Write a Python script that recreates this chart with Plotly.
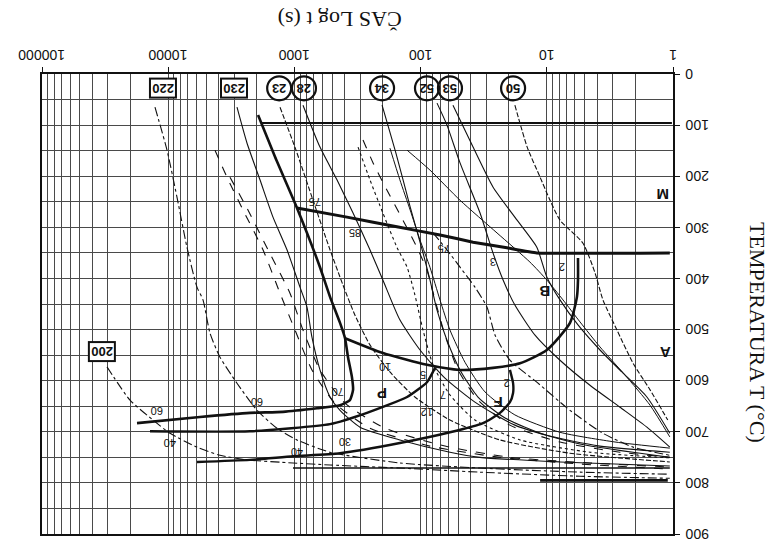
import math
import plotly.graph_objects as go

# ---------------- data (time t in s, temperature T in °C) ----------------
x_ticks = [1, 10, 100, 1000, 10000, 100000]
x_tick_labels = ["1", "10", "100", "1000", "10000", "100000"]
y_ticks = [0, 100, 200, 300, 400, 500, 600, 700, 800, 900]
y_tick_labels = ["0", "100", "200", "300", "400", "500", "600", "700", "800", "900"]

# transformation boundaries (thick lines)
ms_t = [1.06, 12.0, 20.7, 38.4, 70.2, 154, 383, 954]
ms_T = [350, 350, 340, 329, 315, 299, 280, 262]
ps_t = [1941, 1425, 954, 627, 522, 435, 397, 376, 350, 343, 363, 435, 662, 1231, 2249, 5600, 17670]
ps_T = [80, 162, 262, 378, 436, 487, 517, 554, 593, 618, 638, 648, 654, 661, 663, 671, 683]
bs_t = [5.66, 5.66, 5.77, 6.55, 10.0, 16.3, 26.7, 48.7, 89.0, 199, 397]
bs_T = [360, 403, 436, 487, 540, 566, 575, 579, 569, 546, 517]
pf_t = [13940, 2249, 522, 266, 128, 89.0, 76.9]
pf_T = [699, 699, 685, 663, 632, 603, 575]
fs_t = [5915, 2249, 1026, 435, 146, 58.5, 32.0, 23.5, 19.6, 18.5, 18.5, 19.6]
fs_T = [759, 755, 748, 742, 722, 701, 683, 663, 642, 624, 605, 579]
a1_t = [1026, 1.06]
a1_T = [771, 771]
a3_t = [11.3, 1.1]
a3_T = [795, 795]
mf_t = [1806, 1.02]
mf_T = [96, 96]

# cooling curves
c220_t = [12730, 10220, 8520, 7100, 5915, 5300, 4666, 3888, 2850, 1978, 1374, 954, 522, 146, 33.8, 5.46, 1.06]
c220_T = [65, 149, 241, 339, 417, 442, 507, 554, 605, 658, 693, 716, 740, 761, 771, 779, 783]
c200_t = [30550, 20080, 13200, 9680, 5915, 3888, 2376, 1026, 522, 146, 33.8, 5.46, 1.06]
c200_T = [573, 638, 677, 703, 730, 746, 755, 761, 765, 771, 779, 787, 791]
c230_t = [2850, 2376, 1874, 1478, 1145, 903, 795, 726, 627, 522, 435, 302, 146, 58.5, 33.8, 7.86, 1.06]
c230_T = [65, 135, 207, 280, 344, 417, 456, 515, 579, 632, 658, 691, 716, 740, 750, 759, 767]
d1_t = [4259, 3420, 2555, 1774, 1300, 989, 726, 477, 252, 84.3, 23.5, 5.46, 1.06]
d1_T = [149, 202, 266, 344, 429, 501, 579, 644, 693, 728, 750, 763, 773]
d2_t = [3239, 2333, 1619, 1084, 855, 627, 397, 191, 64.1, 19.6, 4.55, 1.06]
d2_T = [202, 266, 344, 429, 501, 579, 644, 693, 728, 750, 761, 769]
c23_t = [1300, 971, 712, 522, 412, 331, 252, 175, 111, 58.5, 23.5, 6.55, 1.06]
c23_T = [65, 149, 247, 344, 413, 472, 530, 583, 632, 677, 716, 742, 759]
c28_t = [855, 627, 460, 343, 252, 199, 146, 101, 64.1, 37.1, 17.9, 5.46, 1.06]
c28_T = [61, 143, 207, 272, 344, 403, 481, 540, 595, 642, 687, 724, 750]
c34_t = [202, 154, 121, 95.7, 84.3, 74.1, 61.8, 48.7, 35.1, 21.4, 10.3, 3.79, 1.06]
c34_T = [61, 162, 260, 350, 403, 462, 521, 579, 632, 673, 706, 728, 740]
s1_t = [175, 146, 121, 101, 84.3, 70.2, 58.5, 44.5, 30.9, 17.9, 7.86, 2.88, 1.06]
s1_T = [145, 207, 266, 325, 378, 442, 501, 564, 622, 667, 701, 720, 732]
d3_t = [286, 238, 185, 138, 107, 89.0, 76.9, 64.1, 50.5, 35.1, 19.6, 7.86, 2.63, 1.06]
d3_T = [129, 174, 227, 286, 339, 384, 442, 511, 579, 638, 687, 720, 740, 750]
d4_t = [313, 252, 199, 154, 128, 111, 95.7, 79.7, 58.5, 37.1, 16.3, 4.55, 1.06]
d4_T = [143, 207, 272, 339, 378, 432, 501, 569, 628, 677, 716, 740, 751]
d5_t = [79.7, 61.8, 48.7, 37.1, 29.8, 25.7, 19.6, 12.0, 6.55, 3.59, 2.07, 1.06]
d5_T = [311, 344, 378, 417, 456, 511, 560, 603, 658, 703, 730, 746]
u_t = [128, 84.3, 48.7, 24.8, 13.6, 10.0, 7.44, 5.46, 3.79, 2.40, 1.52, 1.06]
u_T = [149, 188, 247, 311, 368, 403, 442, 485, 534, 589, 648, 710]
c52_t = [74.1, 61.8, 48.7, 33.8, 26.7, 22.2, 17.9, 12.4, 7.86, 4.55, 2.63, 1.61, 1.06]
c52_T = [57, 100, 174, 272, 350, 403, 452, 511, 560, 609, 652, 691, 730]
c53_t = [55.4, 38.4, 26.7, 17.2, 12.0, 10.0, 7.86, 5.66, 3.79, 2.54, 1.61, 1.06]
c53_T = [61, 143, 221, 286, 339, 397, 442, 491, 540, 583, 632, 703]
c50_t = [17.9, 14.3, 11.3, 9.43, 7.86, 5.17, 4.15, 3.59, 2.78, 2.07, 1.52, 1.10]
c50_T = [61, 143, 202, 247, 286, 331, 389, 442, 501, 566, 618, 677]

# curve end labels
circle_labels = ["50", "53", "52", "34", "28", "23"]
circle_t = [18.5, 58.5, 89.0, 202, 840, 1320]
circle_T = [28, 28, 28, 28, 28, 28]
box_labels = ["220", "230", "200"]
box_t = [11000, 3010, 33500]
box_T = [27, 27, 544]

# phase letters
phase_labels = ["M", "A", "B", "P", "F"]
phase_t = [1.2, 1.16, 10.3, 202, 24.4]
phase_T = [237, 546, 427, 624, 644]

# percentage labels
pct_labels = ["2", "3", "75", "85", "75", "10", "70", "5", "7", "12", "30", "40", "2", "60", "40", "60"]
pct_t = [7.58, 26.7, 65.3, 331, 687, 191, 452, 95.7, 66.5, 89, 397, 953, 20.7, 12270, 9680, 1978]
pct_T = [378, 368, 341, 311, 250, 573, 622, 589, 628, 661, 720, 740, 605, 658, 722, 642]

# ---------------- figure ----------------
INK = "#111111"
GRID = "#4a4a4a"
fig = go.Figure()


def add_line(t, T, width=1.0, dash="solid", smooth=0.6):
    fig.add_trace(go.Scatter(
        x=t, y=T, mode="lines",
        line=dict(color=INK, width=width, dash=dash, shape="spline", smoothing=smooth),
        hoverinfo="skip", showlegend=False))


# cooling curves
add_line(c220_t, c220_T, 1.1, "dashdot")
add_line(c200_t, c200_T, 1.1, "dashdot")
add_line(c230_t, c230_T, 1.1)
add_line(d1_t, d1_T, 1.1, "dash")
add_line(d2_t, d2_T, 1.1, "dash")
add_line(c23_t, c23_T, 1.1, "5px,2px")
add_line(c28_t, c28_T, 1.1)
add_line(c34_t, c34_T, 1.1)
add_line(s1_t, s1_T, 1.0)
add_line(d3_t, d3_T, 1.1, "dash")
add_line(d4_t, d4_T, 1.1, "dot")
add_line(d5_t, d5_T, 1.1, "dashdot")
add_line(u_t, u_T, 1.0)
add_line(c52_t, c52_T, 1.1)
add_line(c53_t, c53_T, 1.1)
add_line(c50_t, c50_T, 1.1, "5px,2px")

# transformation boundaries
add_line(ms_t, ms_T, 3.0, smooth=0.3)
add_line(ps_t, ps_T, 2.6, smooth=0.5)
add_line(bs_t, bs_T, 2.6, smooth=0.6)
add_line(pf_t, pf_T, 2.4, smooth=0.5)
add_line(fs_t, fs_T, 2.4, smooth=0.6)
add_line(a1_t, a1_T, 1.6, smooth=0)
add_line(a3_t, a3_T, 2.6, smooth=0)
add_line(mf_t, mf_T, 2.0, smooth=0)

# circles around labels
fig.add_trace(go.Scatter(
    x=circle_t, y=circle_T, mode="markers",
    marker=dict(symbol="circle-open", size=24, color=INK, line=dict(width=2.2, color=INK)),
    hoverinfo="skip", showlegend=False))

annotations = []
for lab, t, T in zip(circle_labels, circle_t, circle_T):
    annotations.append(dict(x=math.log10(t), y=T, xref="x", yref="y", text="<b>" + lab + "</b>", showarrow=False,
                            textangle=180, font=dict(family="Liberation Sans", size=13, color=INK)))
for lab, t, T in zip(box_labels, box_t, box_T):
    annotations.append(dict(x=math.log10(t), y=T, xref="x", yref="y", text="<b>" + lab + "</b>", showarrow=False,
                            textangle=180, bordercolor=INK, borderwidth=2, borderpad=1, bgcolor="white",
                            font=dict(family="Liberation Sans", size=13, color=INK)))
for lab, t, T in zip(phase_labels, phase_t, phase_T):
    annotations.append(dict(x=math.log10(t), y=T, xref="x", yref="y", text="<b>" + lab + "</b>", showarrow=False,
                            textangle=180, font=dict(family="Liberation Sans", size=15, color=INK)))
for lab, t, T in zip(pct_labels, pct_t, pct_T):
    annotations.append(dict(x=math.log10(t), y=T, xref="x", yref="y", text=lab, showarrow=False,
                            textangle=180, font=dict(family="Liberation Sans", size=11, color=INK)))

# upside-down tick labels
for v, lab in zip(x_ticks, x_tick_labels):
    annotations.append(dict(x=math.log10(v), y=1.0413, xref="x", yref="paper", text=lab, showarrow=False,
                            textangle=180, xanchor="center", yanchor="middle",
                            font=dict(family="Liberation Sans", size=14, color=INK)))
for v, lab in zip(y_ticks, y_tick_labels):
    annotations.append(dict(x=1.0158, y=v, xref="paper", yref="y", text=lab, showarrow=False,
                            textangle=180, xanchor="left", yanchor="middle",
                            font=dict(family="Liberation Sans", size=14, color=INK)))

# axis titles
annotations.append(dict(x=0.472, y=1.117, xref="paper", yref="paper", text="ČAS Log t (s)", showarrow=False,
                        textangle=180, xanchor="center", yanchor="middle",
                        font=dict(family="Liberation Serif", size=22, color=INK)))
annotations.append(dict(x=1.133, y=0.437, xref="paper", yref="paper", text="TEMPERATURA T (°C)", showarrow=False,
                        textangle=90, xanchor="center", yanchor="middle",
                        font=dict(family="Liberation Serif", size=22, color=INK)))

minor_x = [m * 10 ** d for d in range(0, 5) for m in range(2, 10)]

fig.update_layout(
    width=783, height=543,
    margin=dict(l=34, r=118, t=66, b=17, autoexpand=False),
    paper_bgcolor="white", plot_bgcolor="white",
    showlegend=False,
    annotations=annotations,
    xaxis=dict(type="log", range=[5, 0], side="top",
               tickmode="array", tickvals=x_ticks, showticklabels=False,
               ticks="outside", ticklen=5, tickcolor=INK,
               showgrid=True, gridcolor=GRID, gridwidth=1,
               minor=dict(tickmode="array", tickvals=minor_x, showgrid=True, gridcolor=GRID, gridwidth=1, ticks=""),
               showline=True, linecolor=INK, linewidth=1.5, mirror=True, zeroline=False),
    yaxis=dict(range=[900, 0], side="right",
               tickmode="array", tickvals=y_ticks, showticklabels=False,
               ticks="outside", ticklen=5, tickcolor=INK,
               showgrid=True, gridcolor=GRID, gridwidth=1,
               minor=dict(dtick=50, showgrid=True, gridcolor=GRID, gridwidth=1, ticks=""),
               showline=True, linecolor=INK, linewidth=1.5, mirror=True, zeroline=False),
)

fig.write_html("out.html")
